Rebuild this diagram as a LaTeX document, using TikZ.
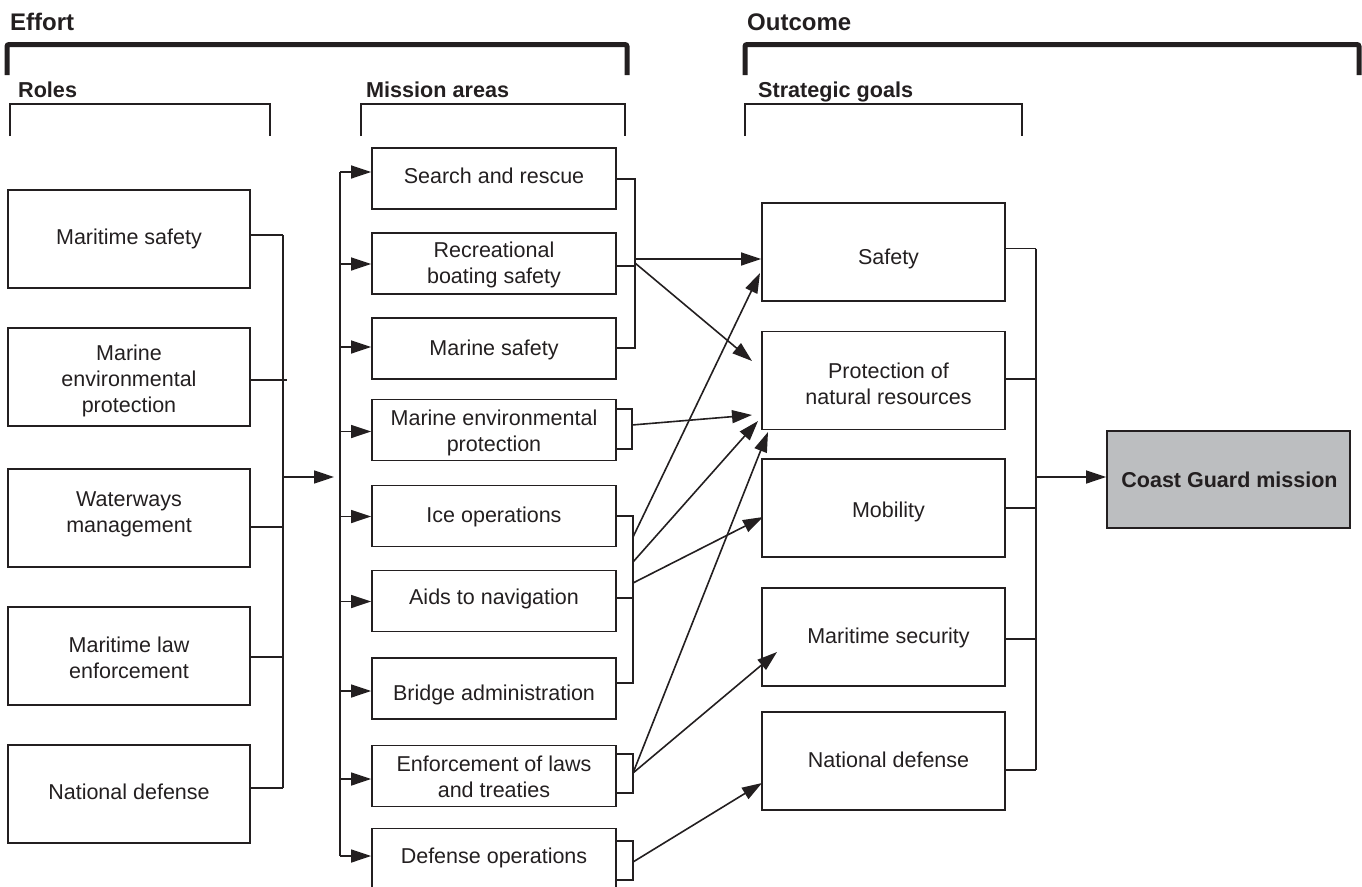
\documentclass[tikz,border=0pt]{standalone}
\usepackage{fontspec}
\setmainfont{Liberation Sans}
\usetikzlibrary{arrows.meta,calc}
\definecolor{ink}{HTML}{231F20}
\definecolor{cgfill}{HTML}{BCBEC0}
\begin{document}
\begin{tikzpicture}[x=1pt,y=-1pt,
  every node/.style={text=ink},
  hdr/.style={inner sep=0pt, anchor=base west, font=\bfseries\fontsize{24}{28}\selectfont},
  subhdr/.style={inner sep=0pt, anchor=base west, font=\bfseries\fontsize{21.6}{26}\selectfont},
  basebox/.style={draw=ink, line width=1.8pt, inner sep=0pt},
  rolebox/.style={basebox, minimum width=242pt, minimum height=98pt},
  misbox/.style={basebox, minimum width=244pt, minimum height=61pt},
  goalbox/.style={basebox, minimum width=243pt, minimum height=98pt},
  cgbox/.style={basebox, fill=cgfill, minimum width=243pt, minimum height=97pt},
  btxt/.style={align=center, inner sep=2pt, font=\fontsize{21.5}{26}\selectfont},
  cgtxt/.style={btxt, font=\bfseries\fontsize{21.5}{26}\selectfont},
  bigbr/.style={draw=ink, line width=5pt, rounded corners=2pt},
  smbr/.style={draw=ink, line width=1.8pt},
  conn/.style={draw=ink, line width=1.6pt},
  arr/.style={conn, -{Triangle[length=20pt,width=13pt]}}
]
\useasboundingbox (0,0) rectangle (1362,886);

% headers
\node[hdr] (effort) at (10,30) {Effort};
\node[hdr] (outcome) at (747,30) {Outcome};
\node[subhdr] (roles) at (18,97) {Roles};
\node[subhdr] (missionareas) at (366,97) {Mission areas};
\node[subhdr] (strategic) at (758,97) {Strategic goals};

% brackets
\draw[bigbr] (7,75) -- (7,44.5) -- (627,44.5) -- (627,75);
\draw[bigbr] (745,75) -- (745,44.5) -- (1359,44.5) -- (1359,75);
\draw[smbr] (10,136) -- (10,104) -- (270,104) -- (270,136);
\draw[smbr] (361,136) -- (361,104) -- (625,104) -- (625,136);
\draw[smbr] (745,136) -- (745,104) -- (1022,104) -- (1022,136);

% roles
\node[rolebox] (r1) at (129,239) {};
\node[rolebox] (r2) at (129,377) {};
\node[rolebox] (r3) at (129,518) {};
\node[rolebox] (r4) at (129,656) {};
\node[rolebox] (r5) at (129,794) {};
\node[btxt] (r1t) at ([yshift=0pt]r1.center) {Maritime safety};
\node[btxt] (r2t) at ([yshift=-4pt]r2.center) {Marine\\environmental\\protection};
\node[btxt] (r3t) at ([yshift=4pt]r3.center) {Waterways\\management};
\node[btxt] (r4t) at ([yshift=-2pt]r4.center) {Maritime law\\enforcement};
\node[btxt] (r5t) at ([yshift=2pt]r5.center) {National defense};

% mission areas
\node[misbox] (m1) at (494,178.5) {};
\node[misbox] (m2) at (494,263.5) {};
\node[misbox] (m3) at (494,348.5) {};
\node[misbox] (m4) at (494,430) {};
\node[misbox] (m5) at (494,516) {};
\node[misbox] (m6) at (494,601) {};
\node[misbox] (m7) at (494,688.5) {};
\node[misbox] (m8) at (494,776) {};
\node[misbox] (m9) at (494,859) {};
\node[btxt] (m1t) at ([yshift=3pt]m1.center) {Search and rescue};
\node[btxt] (m2t) at ([yshift=-1pt]m2.center) {Recreational\\boating safety};
\node[btxt] (m3t) at ([yshift=-1pt]m3.center) {Marine safety};
\node[btxt] (m4t) at ([yshift=-3pt]m4.center) {Marine environmental\\protection};
\node[btxt] (m5t) at ([yshift=-1pt]m5.center) {Ice operations};
\node[btxt] (m6t) at ([yshift=2pt]m6.center) {Aids to navigation};
\node[btxt] (m7t) at ([yshift=-6pt]m7.center) {Bridge administration};
\node[btxt] (m8t) at ([yshift=-1pt]m8.center) {Enforcement of laws\\and treaties};
\node[btxt] (m9t) at ([yshift=1pt]m9.center) {Defense operations};

% strategic goals
\node[goalbox] (s1) at (883.5,252) {};
\node[goalbox] (s2) at (883.5,380.5) {};
\node[goalbox] (s3) at (883.5,508) {};
\node[goalbox] (s4) at (883.5,637) {};
\node[goalbox] (s5) at (883.5,761) {};
\node[btxt] (s1t) at ([xshift=5pt,yshift=-7pt]s1.center) {Safety};
\node[btxt] (s2t) at ([xshift=5pt,yshift=-3pt]s2.center) {Protection of\\natural resources};
\node[btxt] (s3t) at ([xshift=5pt,yshift=-4pt]s3.center) {Mobility};
\node[btxt] (s4t) at ([xshift=5pt,yshift=-1pt]s4.center) {Maritime security};
\node[btxt] (s5t) at ([xshift=5pt,yshift=1pt]s5.center) {National defense};

% outcome
\node[cgbox] (cg) at (1228.5,479.5) {};
\node[cgtxt] (cgt) at ([xshift=1pt]cg.center) {Coast Guard mission};

% roles bus
\coordinate (rbt) at (283,235);
\coordinate (rbb) at (283,788);
\coordinate (rbo) at (283,477);
\coordinate (mbin) at (334,477);
\draw[conn] (r1.east |- 0,235) -- (rbt);
\draw[conn] (r2.east |- 0,380) -- (287,380);
\draw[conn] (r3.east |- 0,527) -- (283,527);
\draw[conn] (r4.east |- 0,657) -- (283,657);
\draw[conn] (r5.east |- 0,788) -- (rbb);
\draw[conn] (rbt) -- (rbb);
\draw[arr] (rbo) -- (mbin);

% mission bus
\coordinate (mbt) at (340,172);
\coordinate (mbb) at (340,856);
\draw[conn] (mbt) -- (mbb);
\foreach \i/\y in {1/172,2/264,3/347,4/431.5,5/516.5,6/601.5,7/691,8/779,9/856}
  \draw[arr] (340,\y) -- (m\i.west |- 0,\y);

% group A: m1-m3
\coordinate (gaT) at (635,179);
\coordinate (gaB) at (635,348);
\draw[conn] (m1.east |- gaT) -- (gaT) -- (gaB) -- (m3.east |- gaB);
\draw[conn] (m2.east |- 0,266) -- (635,266);
\coordinate (ga1) at (635,259);
\coordinate (ga2) at (635,263);
\draw[arr] (ga1) -- (s1.west |- ga1);
\draw[arr] (ga2) -- (752,361);

% m4 bracket
\draw[conn] (m4.east |- 0,409) -- (632,409) -- (632,449) -- (m4.east |- 0,449);
\coordinate (g4) at (632,425);
\draw[arr] (g4) -- (752,415);

% group B: m5-m7
\coordinate (gbT) at (633,516);
\coordinate (gbB) at (633,683);
\draw[conn] (m5.east |- gbT) -- (gbT) -- (gbB) -- (m7.east |- gbB);
\draw[conn] (m6.east |- 0,598) -- (633,598);
\coordinate (gb1) at (633,537);
\coordinate (gb2) at (633,562);
\coordinate (gb3) at (633,583);
\draw[arr] (gb1) -- (760,273);
\draw[arr] (gb2) -- (758,421);
\draw[arr] (gb3) -- (763,517);

% m8 bracket
\draw[conn] (m8.east |- 0,754) -- (633,754) -- (633,793) -- (m8.east |- 0,793);
\coordinate (g8) at (633,773);
\draw[arr] (g8) -- (768,432);
\draw[arr] (g8) -- (777,652);

% m9 bracket
\draw[conn] (m9.east |- 0,841) -- (633,841) -- (633,880) -- (m9.east |- 0,880);
\coordinate (g9) at (633,862);
\draw[arr] (g9) -- (762,783);

% goals bus
\coordinate (gbusT) at (1036,248.5);
\coordinate (gbusB) at (1036,770);
\coordinate (gbusO) at (1036,477);
\draw[conn] (s1.east |- gbusT) -- (gbusT);
\draw[conn] (s2.east |- 0,379) -- (1036,379);
\draw[conn] (s3.east |- 0,508) -- (1036,508);
\draw[conn] (s4.east |- 0,639) -- (1036,639);
\draw[conn] (s5.east |- gbusB) -- (gbusB);
\draw[conn] (gbusT) -- (gbusB);
\draw[arr] (gbusO) -- (cg.west |- gbusO);
\end{tikzpicture}
\end{document}
